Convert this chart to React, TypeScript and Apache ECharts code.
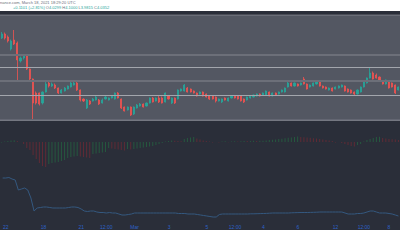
import React, { useEffect, useRef } from "react";
import * as echarts from "echarts";

// ---- Candles (price) ----
const opens = [
  4.535, 4.575, 4.545, 4.425, 4.515, 4.485, 4.305, 4.335, 4.355, 4.225,
  4.125, 3.985, 3.985, 3.885, 3.995, 4.085, 4.055, 4.065, 4.035, 3.985,
  4.005, 4.025, 4.045, 4.065, 4.085, 4.015, 3.925, 3.835, 3.905, 3.905,
  3.915, 3.915, 3.885, 3.925, 3.915, 3.935, 3.925, 3.985, 3.925, 3.845,
  3.815, 3.845, 3.775, 3.835, 3.855, 3.875, 3.855, 3.885, 3.935, 3.905,
  3.935, 3.935, 3.895, 3.955, 3.885, 3.935, 3.925, 4.005, 4.005, 4.035,
  4.025, 4.005, 3.985, 3.975, 3.995, 3.975, 3.955, 3.955, 3.945, 3.905,
  3.895, 3.935, 3.905, 3.935, 3.955, 3.955, 3.955, 3.925, 3.915, 3.935,
  3.945, 3.955, 3.975, 3.965, 3.965, 3.995, 3.955, 3.985, 3.975, 3.995,
  3.995, 4.045, 4.085, 4.055, 4.075, 4.065, 4.125, 4.075, 4.045, 4.055,
  4.075, 4.095, 4.055, 4.045, 4.015, 4.035, 4.025, 4.035, 4.045, 4.055,
  4.025, 4.015, 3.995, 3.975, 3.995, 4.045, 4.085, 4.135, 4.185, 4.165,
  4.145, 4.105, 4.075, 4.095, 4.085, 4.065, 4.015,
];
const closes = [
  4.575, 4.535, 4.505, 4.505, 4.475, 4.315, 4.335, 4.365, 4.225, 4.125,
  3.885, 3.885, 3.875, 3.995, 4.075, 4.055, 4.075, 4.035, 3.985, 4.015,
  4.035, 4.055, 4.085, 4.085, 4.015, 3.915, 3.905, 3.915, 3.875, 3.925,
  3.945, 3.875, 3.915, 3.945, 3.935, 3.955, 3.985, 3.935, 3.835, 3.805,
  3.845, 3.765, 3.845, 3.865, 3.875, 3.845, 3.885, 3.935, 3.895, 3.935,
  3.895, 3.885, 3.985, 3.925, 3.935, 3.885, 4.015, 4.025, 4.065, 3.995,
  3.995, 3.985, 3.955, 3.995, 3.955, 3.945, 3.925, 3.925, 3.905, 3.925,
  3.925, 3.915, 3.935, 3.955, 3.935, 3.925, 3.905, 3.895, 3.945, 3.955,
  3.965, 3.975, 3.955, 3.985, 4.005, 3.955, 3.985, 3.965, 3.995, 4.015,
  4.035, 4.085, 4.055, 4.085, 4.055, 4.085, 4.075, 4.025, 4.065, 4.085,
  4.095, 4.055, 4.035, 4.025, 4.035, 4.005, 4.045, 4.055, 4.065, 4.005,
  3.995, 3.985, 3.975, 4.015, 4.045, 4.095, 4.135, 4.185, 4.125, 4.135,
  4.115, 4.075, 4.115, 4.035, 4.045, 3.985, 4.045,
];
const lows = [
  4.525, 4.52, 4.49, 4.41, 4.465, 4.115, 4.29, 4.32, 4.215, 4.115,
  3.725, 3.87, 3.86, 3.87, 3.99, 4.04, 4.045, 4.025, 3.975, 3.98,
  4.0, 4.02, 4.04, 4.06, 4.005, 3.9, 3.895, 3.825, 3.865, 3.9,
  3.91, 3.865, 3.88, 3.92, 3.91, 3.93, 3.92, 3.93, 3.825, 3.8,
  3.81, 3.755, 3.765, 3.83, 3.85, 3.84, 3.85, 3.88, 3.89, 3.9,
  3.885, 3.88, 3.89, 3.92, 3.875, 3.875, 3.92, 4.0, 4.0, 3.99,
  3.99, 3.98, 3.95, 3.97, 3.95, 3.94, 3.915, 3.92, 3.89, 3.9,
  3.885, 3.91, 3.9, 3.93, 3.93, 3.92, 3.9, 3.885, 3.91, 3.93,
  3.94, 3.95, 3.95, 3.96, 3.96, 3.95, 3.95, 3.96, 3.97, 3.99,
  3.99, 4.04, 4.05, 4.05, 4.05, 4.06, 4.07, 4.02, 4.04, 4.05,
  4.07, 4.05, 4.03, 4.02, 4.01, 4.0, 4.02, 4.03, 4.04, 4.0,
  3.99, 3.98, 3.965, 3.97, 3.99, 4.04, 4.08, 4.13, 4.12, 4.13,
  4.11, 4.07, 4.07, 4.03, 4.04, 3.975, 4.01,
];
const highs = [
  4.595, 4.59, 4.56, 4.52, 4.615, 4.5, 4.35, 4.375, 4.37, 4.23,
  4.13, 4.0, 3.99, 4.0, 4.095, 4.1, 4.09, 4.08, 4.04, 4.025,
  4.045, 4.06, 4.095, 4.1, 4.095, 4.02, 3.93, 3.925, 3.915, 3.935,
  3.955, 3.925, 3.93, 3.955, 3.94, 3.96, 3.99, 3.995, 3.93, 3.85,
  3.85, 3.85, 3.85, 3.875, 3.885, 3.88, 3.89, 3.94, 3.945, 3.94,
  3.96, 3.95, 3.99, 3.96, 3.94, 3.94, 4.02, 4.03, 4.075, 4.045,
  4.03, 4.01, 3.99, 4.0, 4.0, 3.98, 3.96, 3.96, 3.95, 3.93,
  3.93, 3.94, 3.94, 3.96, 3.96, 3.96, 3.96, 3.93, 3.95, 3.96,
  3.97, 3.98, 3.98, 3.99, 4.01, 4.0, 3.99, 3.99, 4.0, 4.02,
  4.04, 4.095, 4.09, 4.09, 4.08, 4.09, 4.145, 4.08, 4.07, 4.09,
  4.1, 4.1, 4.06, 4.05, 4.04, 4.04, 4.05, 4.06, 4.07, 4.06,
  4.03, 4.02, 4.0, 4.02, 4.05, 4.1, 4.14, 4.235, 4.2, 4.18,
  4.15, 4.11, 4.12, 4.1, 4.09, 4.07, 4.05,
];

// ---- Horizontal levels ----
const majorLevels = [4.235, 3.955];
const minorLevels = [4.365, 4.105];

// ---- Histogram (oscillator) ----
const histValues = [
  -0.5, 0.5, 1, 1.5, 1.8, 1, 0, -2, -6, -8,
  -13, -17, -21, -24, -25, -22, -21, -20.5, -20, -19,
  -18, -16, -15, -14.5, -14, -14.5, -15, -15.5, -16, -12,
  -11.5, -11, -10.5, -10, -6, -6.5, -7, -7.5, -8, -8.5,
  -7, -7.5, -7, -6.5, -6, -5.5, -5, -4.5, -4, -3,
  -2, -1, 0.5, 1, 1.5, 1.2, 1, 0.8, 3, 4,
  4.5, 5, 3.5, 2.5, 1.5, 1, 0.5, -0.5, 0, -0.5,
  0.5, 0.8, -0.3, 0.5, 0.7, 0.6, 0.8, 1, 0.9, 1,
  1.2, 1.1, 1.2, 1.3, 1.5, 2, 2.2, 2.4, 3, 3.3,
  3.8, 4.2, 4.5, 5, 5.5, 5, 4.8, 4.5, 4.2, 3.8,
  3.4, 3, 2.5, 2, 1.5, 1, -0.5, 0, -1, -2,
  -3, -4, -4.5, -3, -2, 0.5, 2, 3, 4, 5,
  5.2, 4, 3.5, 3, 2.8, 2.4, 2,
];

// ---- Lower line indicator ----
const lineValues = [
  42, 42, 42.5, 41, 40, 30, 31, 32, 30, 22,
  9, 12, 12.5, 13, 13, 12.5, 12, 12, 12, 12,
  12, 12.5, 13, 13, 12.5, 11, 9, 8.5, 9, 9,
  8, 7.5, 7.5, 7, 7.5, 7, 7, 6, 5, 5,
  5.5, 6, 7, 7, 7, 7, 7, 7, 7, 7,
  7, 7, 7, 7, 7, 7, 6.5, 6.5, 6.5, 6,
  6, 6, 5.5, 5, 4.5, 4, 3.5, 3, 3, 5.5,
  6, 6, 6, 6, 6, 6, 6, 6, 6, 6.2,
  6.2, 6.3, 6.4, 6.5, 6.6, 6.8, 7, 7, 7, 7,
  7, 7, 7.2, 7.3, 7.4, 7.5, 7.5, 7.5, 7.6, 7.7,
  7.8, 8, 8, 8, 8, 8, 8, 8, 8, 7,
  6, 6, 6, 6.5, 6.5, 7, 8, 9, 9, 8,
  7, 7, 7, 6.5, 6, 5, 4,
];

// ---- Time axis labels ----
const tickLabels = ["22", "18", "21", "12:00", "Mar", "3", "5", "12:00", "4", "6", "12", "12:00", "8"];
const tickIndex = [1, 13, 25, 33, 42, 53, 65, 74, 83, 94, 106, 115, 123];

const headerLine1 = "nance.com, March 18, 2021 18:29:20 UTC";
const headerChange = "+0.1101 (+2.81%)";
const headerO = "4.0299";
const headerH = "4.1000";
const headerL = "3.9815";
const headerC = "4.0352";

const UP = "#26a69a";
const DOWN = "#ef5350";

export default function App() {
  const ref = useRef<HTMLDivElement>(null);
  useEffect(() => {
    if (!ref.current) return;
    const chart = echarts.init(ref.current, undefined, { renderer: "svg" });
    const categories = opens.map((_, i) => String(i));
    const candleData = opens.map((o, i) => [o, closes[i], lows[i], highs[i]]);

    const lvl = (v: number, major: boolean) => ({
      yAxis: v,
      lineStyle: {
        color: major ? "#a3a6ad" : "#6c6f79",
        width: major ? 1 : 2,
        type: "solid",
      },
    });

    const hiddenX = (gi: number) => ({
      type: "category",
      gridIndex: gi,
      data: categories,
      boundaryGap: true,
      axisLine: { show: false },
      axisTick: { show: false },
      axisLabel: { show: false },
      splitLine: { show: false },
    });

    chart.setOption({
      animation: false,
      backgroundColor: "#ffffff",
      graphic: [
        { type: "rect", z: -10, shape: { x: 0, y: 11, width: 400, height: 4 }, style: { fill: "#2a2e39" } },
        { type: "rect", z: -10, shape: { x: 0, y: 14.5, width: 400, height: 1.5 }, style: { fill: "#6a6d77" } },
        { type: "rect", z: -10, shape: { x: 0, y: 16, width: 400, height: 105 }, style: { fill: "#535762" } },
        { type: "rect", z: -9, shape: { x: 0, y: 119.5, width: 400, height: 1.5 }, style: { fill: "#747781" } },
        { type: "rect", z: -10, shape: { x: 0, y: 121, width: 400, height: 109 }, style: { fill: "#2a2e39" } },
        {
          type: "text",
          x: 0,
          y: 0.5,
          style: { text: headerLine1, fontSize: 4, fill: "#6a6d78", fontFamily: "sans-serif" },
        },
        {
          type: "text",
          x: 13,
          y: 5.5,
          style: {
            text: `{v|${headerChange}} {k|O}{v|${headerO}} {k|H}{v|${headerH}} {k|L}{v|${headerL}} {k|C}{v|${headerC}}`,
            fontSize: 4,
            fontFamily: "sans-serif",
            rich: {
              k: { fill: "#6a6d78", fontSize: 4 },
              v: { fill: UP, fontSize: 4 },
            },
          },
        },
      ],
      grid: [
        { left: 0, right: 0, top: 16, height: 104 },
        { left: 0, right: 0, top: 126, height: 44 },
        { left: 0, right: 0, top: 170, height: 50 },
      ],
      xAxis: [
        hiddenX(0),
        hiddenX(1),
        {
          type: "category",
          gridIndex: 2,
          data: categories,
          boundaryGap: true,
          axisLine: { show: false },
          axisTick: { show: false },
          splitLine: { show: false },
          axisLabel: {
            show: true,
            interval: (index: number) => tickIndex.includes(index),
            formatter: (_v: string, index: number) => {
              const j = tickIndex.indexOf(index);
              return j >= 0 ? tickLabels[j] : "";
            },
            color: "#2d62c8",
            fontSize: 5,
            margin: 4,
            fontFamily: "sans-serif",
          },
        },
      ],
      yAxis: [
        { type: "value", gridIndex: 0, min: 3.715, max: 4.755, show: false, splitLine: { show: false } },
        { type: "value", gridIndex: 1, min: -28, max: 16, show: false, splitLine: { show: false } },
        { type: "value", gridIndex: 2, min: 0, max: 50, show: false, splitLine: { show: false } },
      ],
      series: [
        {
          type: "candlestick",
          xAxisIndex: 0,
          yAxisIndex: 0,
          data: candleData,
          barWidth: 1.6,
          itemStyle: {
            color: UP,
            color0: DOWN,
            borderColor: UP,
            borderColor0: DOWN,
            borderWidth: 0.8,
          },
          markLine: {
            silent: true,
            symbol: ["none", "none"],
            label: { show: false },
            data: [
              ...majorLevels.map((v) => lvl(v, true)),
              ...minorLevels.map((v) => lvl(v, false)),
            ],
          },
        },
        {
          type: "bar",
          xAxisIndex: 1,
          yAxisIndex: 1,
          data: histValues,
          barWidth: 1,
          itemStyle: {
            color: (p: any) => {
              const i = p.dataIndex;
              const prev = i > 0 ? histValues[i - 1] : histValues[i];
              return histValues[i] >= prev ? "rgba(34,140,70,0.45)" : "rgba(150,40,50,0.5)";
            },
          },
        },
        {
          type: "line",
          xAxisIndex: 2,
          yAxisIndex: 2,
          data: lineValues,
          symbol: "none",
          lineStyle: { color: "#34587f", width: 1 },
        },
      ],
    });
    return () => chart.dispose();
  }, []);
  return (
    <div
      ref={ref}
      style={{ position: "fixed", left: 0, top: 0, width: 400, height: 240 }}
    />
  );
}
